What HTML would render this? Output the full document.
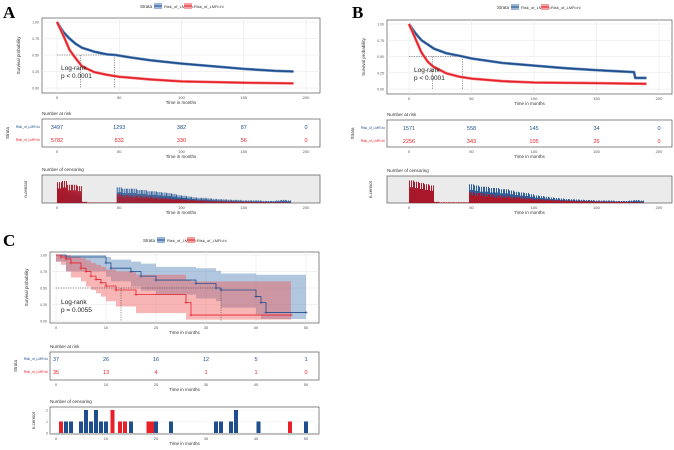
<!DOCTYPE html>
<html><head><meta charset="utf-8"><style>
body{margin:0;background:#fff}
svg{display:block;font-family:"Liberation Sans",sans-serif}
</style></head><body>
<svg id="fig" width="674" height="450" viewBox="0 0 674 450"></svg>
<script>
// ---------- DATA ----------
const aBlueT=[0,5,10,15,20,30,40,47,60,75,100,125,150,175,190];
const aBlueS=[1,.85,.75,.67,.61,.55,.51,.5,.46,.42,.37,.33,.29,.26,.25];
const aRedT=[0,5,10,13,20,30,40,50,75,100,150,190];
const aRedS=[1,.8,.58,.5,.33,.24,.2,.17,.13,.1,.08,.07];
const bBlueT=[0,5,10,20,30,43,50,75,100,125,150,180,181,190];
const bBlueS=[1,.86,.75,.62,.55,.5,.47,.4,.36,.32,.29,.26,.17,.17];
const bRedT=[0,5,10,15,19,30,40,50,75,100,150,190];
const bRedS=[1,.78,.56,.42,.35,.24,.19,.16,.12,.1,.09,.08];
const riskTimesAB=[0,50,100,150,200];
const aRiskLo=[3497,1293,382,87,0];
const aRiskHi=[5782,832,330,56,0];
const bRiskLo=[1571,558,145,34,0];
const bRiskHi=[2256,343,105,26,0];
const aCensRed=[.8,.85,.7,.7,.65,.05,.02,.02,.02,.02,.02,.02,.35,.3,.3,.28,.28,.25,.25,.22,.2,.2,.18,.16,.15,.14,.12,.12,.1,.1,.08,.08,.07,.07,.06,.06,.05,.05,.05,.04,.04,.04,.03,.03,.03,.03,.02];
const aCensBlue=[.45,.45,.4,.4,.35,.03,.02,.02,.02,.02,.02,.02,.6,.55,.55,.55,.5,.5,.45,.45,.42,.4,.38,.35,.3,.28,.25,.22,.2,.2,.18,.16,.15,.14,.13,.12,.12,.1,.1,.1,.1,.08,.08,.08,.1,.12,.1];
const bCensRed=[.9,.85,.8,.75,.7,.05,.03,.03,.03,.03,.03,.03,.45,.4,.4,.35,.35,.3,.3,.28,.25,.25,.22,.2,.18,.16,.15,.14,.12,.12,.1,.1,.09,.08,.08,.07,.07,.06,.06,.05,.05,.05,.05,.04,.04,.04,.03];
const bCensBlue=[.6,.6,.5,.5,.45,.03,.02,.02,.02,.02,.02,.02,.75,.7,.65,.65,.6,.6,.55,.55,.5,.45,.42,.4,.35,.3,.28,.25,.22,.2,.18,.16,.15,.14,.13,.12,.12,.1,.1,.1,.1,.08,.08,.08,.1,.12,.1];
const cBlueT=[0,2,10,11,15,17,20,28,32,33,40,41,42,50];
const cBlueS=[1,.97,.88,.8,.75,.68,.62,.57,.5,.47,.37,.28,.13,.13];
const cBlueUp=[1,1,.97,.93,.9,.87,.82,.8,.76,.72,.7,.7,.7,.7];
const cBlueLo=[1,.9,.75,.67,.6,.52,.46,.4,.34,.3,.2,.1,.03,.03];
const cRedT=[0,1,2,3,5,6,7,8,9,10,12,16,26,27,47];
const cRedS=[1,.97,.94,.88,.8,.75,.68,.63,.58,.53,.47,.4,.28,.09,.09];
const cRedUp=[1,1,1,.98,.95,.92,.88,.85,.82,.78,.75,.7,.62,.6,.6];
const cRedLo=[1,.9,.85,.75,.66,.6,.52,.47,.42,.37,.3,.22,.12,.02,.02];
const riskTimesC=[0,10,20,30,40,50];
const cRiskLo=[37,26,16,12,5,1];
const cRiskHi=[35,13,4,1,1,0];
const cCensBlueT=[2,3,5,6,7,8,9,10,15,20,23,32,33,35,36,40.5,50];
const cCensBlueN=[1,1,1,2,1,2,1,1,1,1,1,1,1,1,2,1,1];
const cCensRedT=[1,11.3,12.8,13.8,18.5,19.2,46.8];
const cCensRedN=[1,2,1,1,1,1,1];
const yTicks=[0,.25,.5,.75,1];
const yTickLabels=["0.00","0.25","0.50","0.75","1.00"];

// ---------- DRAW ----------
const NS="http://www.w3.org/2000/svg";
const svg=document.getElementById('fig');
const BLUE="#1f4e8c",RED="#e8202a";
function mk(tag,at,parent){const e=document.createElementNS(NS,tag);for(const k in at)e.setAttribute(k,at[k]);(parent||svg).appendChild(e);return e;}
function txt(x,y,s,at,name){const e=mk('text',Object.assign({x:x,y:y},at));e.textContent=s;


return e;}
function stepPath(ts,ss,sx,sy){let d='M'+sx(ts[0])+','+sy(ss[0]);for(let i=1;i<ts.length;i++){d+='H'+sx(ts[i])+'V'+sy(ss[i]);}return d;}
function linePath(ts,ss,sx,sy){let d='M'+sx(ts[0])+','+sy(ss[0]);for(let i=1;i<ts.length;i++){d+='L'+sx(ts[i])+','+sy(ss[i]);}return d;}
function bandPath(ts,up,lo,sx,sy){let d='M'+sx(ts[0])+','+sy(up[0]);for(let i=1;i<ts.length;i++)d+='H'+sx(ts[i])+'V'+sy(up[i]);for(let i=ts.length-1;i>0;i--)d+='V'+sy(lo[i])+'H'+sx(ts[i-1]);d+='V'+sy(lo[0])+'Z';return d;}

function panel(P){
  const sx=t=>P.x0+(t-P.tmin)/(P.tmax-P.tmin)*(P.x1-P.x0);
  const sy=v=>P.yb-(v)*(P.yb-P.yt);
  txt(P.lx,P.ly,P.letter,{'font-family':'Liberation Serif,serif','font-weight':'bold','font-size':17},'panel-letter-'+P.letter);
  const g=P.leg;
  txt(g.x,g.y+2,'Strata',{'font-size':4.5,fill:'#333'},'legend-title');
  [[BLUE,'Risk_of_LMR=lo',g.x+14],[RED,'Risk_of_LMR=hi',g.x+44]].forEach((c,i)=>{
    const r=mk('rect',{x:c[2],y:g.y-3,width:8,height:6,fill:i?'#f4a0a0':'#9ab7d8'});
    
    mk('line',{x1:c[2],x2:c[2]+8,y1:g.y,y2:g.y,stroke:c[0],'stroke-width':1});
    txt(c[2]+10,g.y+2,c[1],{'font-size':4,fill:'#333'},'legend-entry');
  });
  const fr=mk('rect',{x:P.bx0,y:P.by0,width:P.bx1-P.bx0,height:P.by1-P.by0,fill:'#fff',stroke:'#555','stroke-width':.7});
  
  P.xt.forEach(t=>{mk('line',{x1:sx(t),x2:sx(t),y1:P.by0,y2:P.by1,stroke:'#e6e6e6','stroke-width':.5});
    txt(sx(t),P.by1+6,String(t),{'font-size':4,fill:'#555','text-anchor':'middle'},'x-tick-label');});
  yTicks.forEach((v,i)=>{mk('line',{x1:P.bx0,x2:P.bx1,y1:sy(v),y2:sy(v),stroke:'#e6e6e6','stroke-width':.5});
    txt(P.bx0-3,sy(v)+1.5,yTickLabels[i],{'font-size':3.5,fill:'#555','text-anchor':'end'},'y-tick-label');});
  txt((P.bx0+P.bx1)/2,P.by1+11,'Time in months',{'font-size':4.5,fill:'#333','text-anchor':'middle'},'x-axis-title');
  txt(0,0,'Survival probability',{'font-size':4.5,fill:'#333','text-anchor':'middle',transform:`translate(${P.bx0-22},${(P.by0+P.by1)/2}) rotate(-90)`},'y-axis-title');
  if(P.bands){P.bands.forEach((b,i)=>{const e=mk('path',{d:bandPath(b[0],b[1],b[2],sx,sy),fill:i?'rgba(240,90,90,0.45)':'rgba(80,130,185,0.45)'});
    });}
  const M=P.med;
  mk('path',{d:`M${sx(P.tmin)},${sy(.5)}H${sx(M[M.length-1])}`,stroke:'#333','stroke-width':.5,'stroke-dasharray':'1.2,1.2',fill:'none'});
  M.forEach(m=>mk('line',{x1:sx(m),x2:sx(m),y1:sy(.5),y2:sy(0),stroke:'#333','stroke-width':.5,'stroke-dasharray':'1.2,1.2'}));
  P.curves.forEach((c,i)=>{
    const col=i?RED:BLUE;
    if(P.smooth){
      const e=mk('path',{d:linePath(c[0],c[1],sx,sy),fill:'none',stroke:i?'#f08080':'#6d93c4','stroke-width':P.sw+1.2,'stroke-linejoin':'round'});
      
    }
    const e=mk('path',{d:(P.smooth?linePath:stepPath)(c[0],c[1],sx,sy),fill:'none',stroke:col,'stroke-width':P.sw,'stroke-linejoin':'round'});
    
    if(!P.smooth){for(let k=1;k<c[0].length;k++){const X=sx(c[0][k]),Y=sy(c[1][k]);mk('path',{d:`M${X-1.5},${Y}h3M${X},${Y-1.5}v3`,stroke:col,'stroke-width':.6});}}
  });
  txt(P.lr[0],P.lr[1],'Log-rank',{'font-size':6.5,fill:'#222'},'logrank-label');
  txt(P.lr[0],P.lr[1]+8,P.pval,{'font-size':6.5,fill:'#222'},'p-value-label');
  const R=P.risk;
  txt(P.bx0,R.y0-4,'Number at risk',{'font-size':4.5,fill:'#333'},'risk-table-title');
  const rf=mk('rect',{x:P.bx0,y:R.y0,width:P.bx1-P.bx0,height:R.y1-R.y0,fill:'#fff',stroke:'#555','stroke-width':.7});
  
  [[R.lo,BLUE,'Risk_of_LMR=lo',R.r1],[R.hi,RED,'Risk_of_LMR=hi',R.r2]].forEach(r=>{
    txt(P.bx0-2,r[3]+1,r[2],{'font-size':3.3,fill:r[1],'text-anchor':'end'},'risk-row-label');
    R.times.forEach((t,j)=>txt(sx(t),r[3]+2,String(r[0][j]),{'font-size':5.5,fill:r[1],'text-anchor':'middle'},'risk-count'));
  });
  txt(0,0,'Strata',{'font-size':4.5,fill:'#333','text-anchor':'middle',transform:`translate(${P.bx0-33},${(R.y0+R.y1)/2}) rotate(-90)`},'risk-y-title');
  P.xt.forEach(t=>txt(sx(t),R.y1+6,String(t),{'font-size':4,fill:'#555','text-anchor':'middle'},'x-tick-label'));
  txt((P.bx0+P.bx1)/2,R.y1+11,'Time in months',{'font-size':4.5,fill:'#333','text-anchor':'middle'},'x-axis-title');
  const C=P.cens;
  txt(P.bx0,C.y0-4,'Number of censoring',{'font-size':4.5,fill:'#333'},'censor-title');
  const cf=mk('rect',{x:P.bx0,y:C.y0,width:P.bx1-P.bx0,height:C.y1-C.y0,fill:C.bg,stroke:'#555','stroke-width':.7});
  
  txt(0,0,'n.censor',{'font-size':4.5,fill:'#333','text-anchor':'middle',transform:`translate(${P.bx0-15},${(C.y0+C.y1)/2}) rotate(-90)`},'censor-y-title');
  const ch=C.y1-C.y0-2;
  if(C.bins){
    [[C.blue,'#2d5e9a'],[C.red,'#a8182a']].forEach((s,si)=>{
      s[0].forEach((v,i)=>{const x0=sx(i*4),x1=sx(i*4+4),n=5;
        for(let k=0;k<n;k++){const h=v*ch*(k%2?0.7:1);const b=mk('rect',{x:x0+(x1-x0)*k/n,y:C.y1-h,width:(x1-x0)/n,height:h,fill:s[1]});
          
          }
      });
    });
  } else {
    const cy=v=>C.y1-1-v/2*(ch-2);
    [0,1,2].forEach(v=>{mk('line',{x1:P.bx0,x2:P.bx1,y1:cy(v),y2:cy(v),stroke:'#eee','stroke-width':.5});
      txt(P.bx0-2,cy(v)+1.3,String(v),{'font-size':3.5,fill:'#555','text-anchor':'end'},'censor-y-tick');});
    [[cCensBlueT,cCensBlueN,'#1f4e8c'],[cCensRedT,cCensRedN,RED]].forEach((s,si)=>{
      s[0].forEach((t,i)=>{const w=sx(0.8)-sx(0);const b=mk('rect',{x:sx(t)-w/2,y:cy(s[1][i]),width:w,height:cy(0)-cy(s[1][i]),fill:s[2]});
        
        });
    });
  }
  P.xt.forEach(t=>txt(sx(t),C.y1+6,String(t),{'font-size':4,fill:'#555','text-anchor':'middle'},'x-tick-label'));
  txt((P.bx0+P.bx1)/2,C.y1+11,'Time in months',{'font-size':4.5,fill:'#333','text-anchor':'middle'},'x-axis-title');
}

panel({letter:'A',lx:3,ly:18,leg:{x:140,y:6},bx0:42,bx1:320,by0:18,by1:93,x0:57,x1:306,tmin:0,tmax:200,yt:22,yb:88,smooth:true,
  xt:[0,50,100,150,200],curves:[[aBlueT,aBlueS],[aRedT,aRedS]],sw:1.6,med:[19,46],lr:[61,70],pval:'p < 0.0001',
  risk:{y0:119,y1:147,r1:127,r2:140,times:riskTimesAB,lo:aRiskLo,hi:aRiskHi},
  cens:{y0:175,y1:203,bg:'#ebebeb',bins:true,blue:aCensBlue,red:aCensRed}});
panel({letter:'B',lx:352,ly:18,leg:{x:497,y:7},bx0:387,bx1:672,by0:20,by1:94,x0:409,x1:659,tmin:0,tmax:200,yt:24,yb:89,smooth:true,
  xt:[0,50,100,150,200],curves:[[bBlueT,bBlueS],[bRedT,bRedS]],sw:1.6,med:[19,43],lr:[414,72],pval:'p < 0.0001',
  bands:null,
  risk:{y0:120,y1:147,r1:128,r2:141,times:riskTimesAB,lo:bRiskLo,hi:bRiskHi},
  cens:{y0:176,y1:203,bg:'#ebebeb',bins:true,blue:bCensBlue,red:bCensRed}});
panel({letter:'C',lx:3,ly:246,leg:{x:143,y:240},bx0:50,bx1:319,by0:252,by1:323,x0:56,x1:306,tmin:0,tmax:50,yt:255,yb:321,smooth:false,
  xt:[0,10,20,30,40,50],curves:[[cBlueT,cBlueS],[cRedT,cRedS]],sw:.8,med:[13,33],lr:[61,304],pval:'p = 0.0055',
  bands:[[cBlueT,cBlueUp,cBlueLo],[cRedT,cRedUp,cRedLo]],
  risk:{y0:352,y1:380,r1:359,r2:372,times:riskTimesC,lo:cRiskLo,hi:cRiskHi},
  cens:{y0:407,y1:434,bg:'#fff',bins:false}});
</script>
</body></html>
